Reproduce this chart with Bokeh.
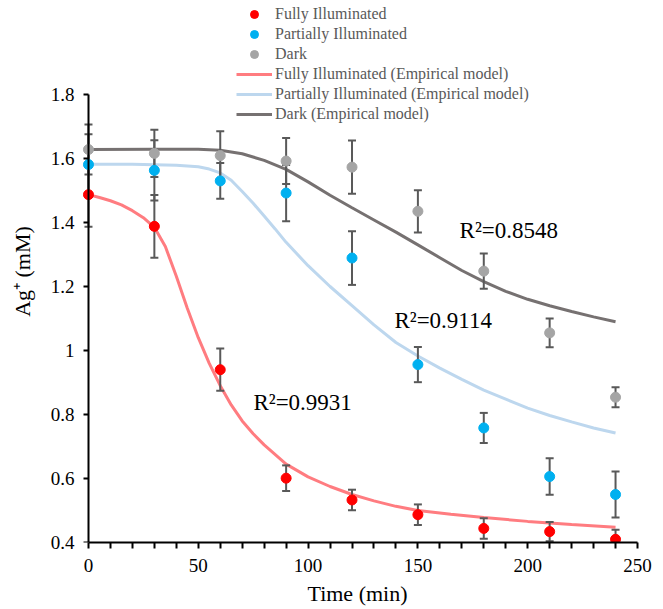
from bokeh.plotting import figure
from bokeh.models import Range1d, FixedTicker, Legend, LegendItem, LinearAxis
from bokeh.embed import file_html
from bokeh.resources import INLINE
from bokeh.core.properties import value

# ---- data ----
time = [0, 30, 60, 90, 120, 150, 180, 210, 240]
fully = [1.487, 1.388, 0.940, 0.601, 0.533, 0.487, 0.444, 0.434, 0.410]
fully_err = [0.100, 0.098, 0.066, 0.040, 0.032, 0.032, 0.032, 0.030, 0.030]
partial = [1.581, 1.563, 1.530, 1.492, 1.289, 0.956, 0.758, 0.606, 0.550]
partial_err = [0.095, 0.094, 0.056, 0.088, 0.084, 0.055, 0.047, 0.057, 0.072]
dark = [1.628, 1.616, 1.609, 1.592, 1.573, 1.435, 1.248, 1.055, 0.854]
dark_err = [0.078, 0.074, 0.076, 0.072, 0.083, 0.066, 0.055, 0.045, 0.031]

model_fully_t = [0, 5, 10, 15, 20, 25, 30, 35, 40, 45, 50, 55, 60, 65, 70, 75, 80,
                 90, 100, 110, 120, 130, 140, 150, 165, 180, 200, 220, 240]
model_fully = [1.487, 1.478, 1.468, 1.455, 1.437, 1.415, 1.385, 1.325, 1.232, 1.132,
               1.040, 0.960, 0.890, 0.830, 0.780, 0.740, 0.705, 0.645, 0.605, 0.575,
               0.550, 0.530, 0.513, 0.500, 0.488, 0.478, 0.466, 0.456, 0.448]
model_partial_t = [0, 20, 40, 50, 55, 60, 65, 70, 75, 80, 85, 90, 100, 110, 120, 130,
                   140, 150, 160, 170, 180, 190, 200, 210, 220, 230, 240]
model_partial = [1.582, 1.582, 1.579, 1.574, 1.567, 1.555, 1.532, 1.497, 1.460, 1.420,
                 1.380, 1.338, 1.265, 1.200, 1.140, 1.080, 1.025, 0.983, 0.945, 0.910,
                 0.876, 0.848, 0.820, 0.797, 0.777, 0.758, 0.742]
model_dark_t = [0, 30, 50, 60, 70, 80, 90, 100, 110, 120, 130, 140, 150, 160, 170, 180,
                190, 200, 210, 220, 230, 240]
model_dark = [1.628, 1.629, 1.629, 1.626, 1.615, 1.594, 1.566, 1.527, 1.485, 1.446,
              1.408, 1.370, 1.330, 1.290, 1.250, 1.215, 1.185, 1.160, 1.140, 1.122,
              1.105, 1.090]

r2_text = ["R²=0.9931", "R²=0.9114", "R²=0.8548"]
r2_x = [75.1, 139.3, 169.0]
r2_y = [0.8375, 1.094, 1.375]

x_ticks = [0, 50, 100, 150, 200, 250]
x_minor = [10, 20, 30, 40, 60, 70, 80, 90, 110, 120, 130, 140, 160, 170, 180, 190,
           210, 220, 230, 240]
y_ticks = [0.4, 0.6, 0.8, 1.0, 1.2, 1.4, 1.6, 1.8]
y_tick_labels = ["0.4", "0.6", "0.8", "1", "1.2", "1.4", "1.6", "1.8"]

FONT = "Liberation Serif"
ERR = "#595959"

p = figure(frame_width=560, frame_height=542, output_backend="svg",
           toolbar_location=None, x_range=Range1d(-5, 250),
           y_range=Range1d(0.4, 2.09375),
           min_border_left=77, min_border_top=0, min_border_bottom=66,
           min_border_right=20, background_fill_color="white")
p.outline_line_color = None
p.xgrid.visible = False
p.ygrid.visible = False

# model lines
l_f = p.line(model_fully_t, model_fully, line_color="#FF7C80", line_width=3)
l_p = p.line(model_partial_t, model_partial, line_color="#BDD7EE", line_width=3)
l_d = p.line(model_dark_t, model_dark, line_color="#767171", line_width=3)

# error bars
for vals, errs in ((fully, fully_err), (partial, partial_err), (dark, dark_err)):
    lo = [v - e for v, e in zip(vals, errs)]
    hi = [v + e for v, e in zip(vals, errs)]
    p.segment(x0=time, y0=lo, x1=time, y1=hi, line_color=ERR, line_width=2)
    p.scatter(time, lo, marker="dash", size=8, line_color=ERR, line_width=2)
    p.scatter(time, hi, marker="dash", size=8, line_color=ERR, line_width=2)

s_f = p.scatter(time, fully, size=10, fill_color="#FF0000", line_color="#FF0000")
s_p = p.scatter(time, partial, size=10, fill_color="#00B0F0", line_color="#00B0F0")
s_d = p.scatter(time, dark, size=10, fill_color="#A5A5A5", line_color="#A5A5A5")

p.text(x=r2_x, y=r2_y, text=r2_text, text_font=value(FONT), text_font_size="23px",
       text_baseline="middle", text_align="left", text_color="black")

# x axis
xa = p.xaxis[0]
xa.ticker = FixedTicker(ticks=x_ticks, minor_ticks=x_minor)
xa.bounds = (0, 250)
xa.axis_line_color = "black"
xa.axis_line_width = 2
xa.major_tick_line_color = "black"
xa.major_tick_line_width = 2
xa.minor_tick_line_color = "black"
xa.minor_tick_line_width = 2
xa.major_tick_in = 0
xa.minor_tick_in = 0
xa.major_tick_out = 6
xa.minor_tick_out = 6
xa.major_label_text_font = FONT
xa.major_label_text_font_size = "19px"
xa.major_label_text_color = "black"
xa.major_label_standoff = 10
xa.axis_label = "Time (min)"
xa.axis_label_text_font = FONT
xa.axis_label_text_font_size = "22px"
xa.axis_label_text_font_style = "normal"
xa.axis_label_text_color = "black"
xa.axis_label_standoff = 6

# y axis: labels and title (at the frame edge)
ya = p.yaxis[0]
ya.ticker = FixedTicker(ticks=y_ticks, minor_ticks=[])
ya.major_label_overrides = {t: l for t, l in zip(y_ticks, y_tick_labels)}
ya.bounds = (0.4, 1.8)
ya.axis_line_color = None
ya.major_tick_line_color = None
ya.minor_tick_line_color = None
ya.major_tick_in = 0
ya.major_tick_out = 0
ya.minor_tick_in = 0
ya.minor_tick_out = 0
ya.major_label_text_font = FONT
ya.major_label_text_font_size = "19px"
ya.major_label_text_color = "black"
ya.major_label_standoff = 3
ya.axis_label = "Ag⁺ (mM)"
ya.axis_label_text_font = FONT
ya.axis_label_text_font_size = "22px"
ya.axis_label_text_font_style = "normal"
ya.axis_label_text_color = "black"
ya.axis_label_standoff = 13

# y axis line and ticks at time = 0
yl = LinearAxis(ticker=FixedTicker(ticks=y_ticks, minor_ticks=[]), fixed_location=0,
                bounds=(0.4, 1.8), axis_line_color="black", axis_line_width=2,
                major_tick_line_color="black", major_tick_line_width=2,
                major_tick_in=0, major_tick_out=5, minor_tick_in=0, minor_tick_out=0,
                major_label_text_alpha=0, major_label_text_font_size="1px",
                major_label_standoff=0)
p.add_layout(yl, "left")

legend = Legend(items=[
    LegendItem(label="Fully Illuminated", renderers=[s_f]),
    LegendItem(label="Partially Illuminated", renderers=[s_p]),
    LegendItem(label="Dark", renderers=[s_d]),
    LegendItem(label="Fully Illuminated (Empirical model)", renderers=[l_f]),
    LegendItem(label="Partially Illuminated (Empirical model)", renderers=[l_p]),
    LegendItem(label="Dark (Empirical model)", renderers=[l_d]),
], location=(159, 418))
legend.background_fill_alpha = 0
legend.border_line_color = None
legend.padding = 0
legend.margin = 0
legend.spacing = 0
legend.label_height = 20
legend.glyph_height = 20
legend.glyph_width = 36
legend.label_standoff = 3
legend.label_text_font = FONT
legend.label_text_font_size = "16px"
legend.label_text_color = "#595959"
p.add_layout(legend, "center")

open("out.html", "w").write(file_html(p, INLINE))
